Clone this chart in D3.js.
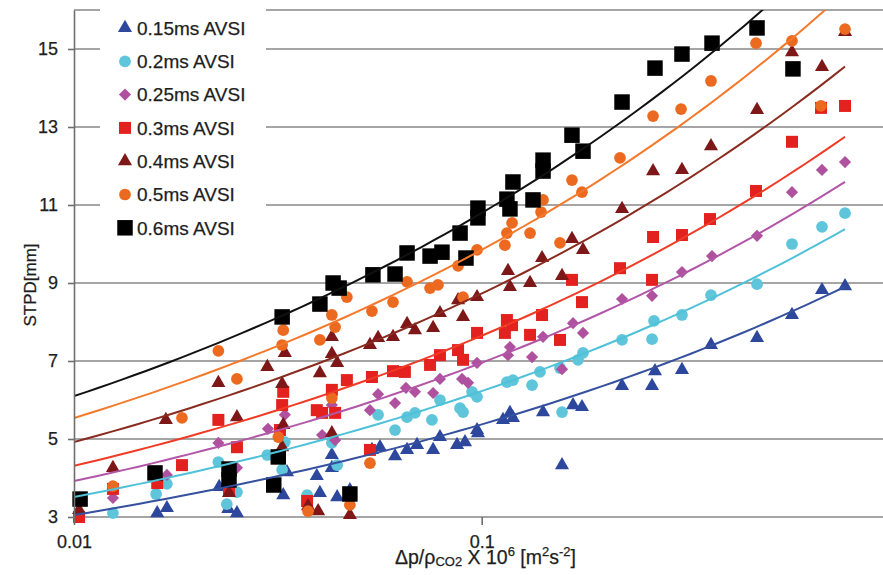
<!DOCTYPE html>
<html>
<head>
<meta charset="utf-8">
<script src="https://cdn.jsdelivr.net/npm/d3@7"></script>
<style>
  body { margin: 0; background: #fff; }
  svg text { font-family: "Liberation Sans", Arial, sans-serif; fill: #1e1e1e; stroke: #1e1e1e; stroke-width: 0.25px; }
</style>
</head>
<body>
<script>
// series labels, in legend order
const seriesNames = ["0.15ms AVSI", "0.2ms AVSI", "0.25ms AVSI", "0.3ms AVSI", "0.4ms AVSI", "0.5ms AVSI", "0.6ms AVSI"];

// [dp/rho x 1e6, STPD mm]
const s015 = [[0.0160,3.10],[0.0169,3.23],[0.0227,3.77],[0.0239,3.21],[0.0251,3.10],[0.0326,3.56],[0.0333,4.15],[0.0394,4.05],[0.0401,3.62],[0.0429,4.59],[0.0429,4.26],[0.0442,3.51],[0.0475,3.69],[0.0538,4.72],[0.0563,4.79],[0.0613,4.56],[0.0656,4.72],[0.0694,4.85],[0.0760,4.72],[0.0790,5.05],[0.0870,4.85],[0.0910,4.92],[0.0974,5.23],[0.0979,5.15],[0.1128,5.49],[0.1173,5.67],[0.1193,5.54],[0.1414,5.69],[0.1574,4.33],[0.1675,5.87],[0.1762,5.82],[0.2209,6.36],[0.2617,6.36],[0.2661,6.74],[0.3099,6.77],[0.3651,7.41],[0.4735,7.59],[0.5769,8.18],[0.6834,8.82],[0.7783,8.92]];
const s020 = [[0.01246,3.10],[0.0159,3.59],[0.0169,3.85],[0.0226,4.41],[0.0237,3.33],[0.0251,3.64],[0.0298,4.59],[0.0324,4.21],[0.0329,4.92],[0.0373,3.56],[0.0429,4.90],[0.0442,4.33],[0.0557,5.62],[0.0613,5.23],[0.0656,5.56],[0.0686,5.67],[0.0755,5.49],[0.0790,6.00],[0.0885,5.79],[0.0900,5.69],[0.0947,6.21],[0.0974,6.08],[0.1153,6.46],[0.1193,6.51],[0.1329,6.38],[0.1390,6.72],[0.1556,6.82],[0.1574,5.69],[0.1723,7.03],[0.1772,7.21],[0.2209,7.54],[0.2617,7.56],[0.2646,8.03],[0.3099,8.18],[0.3651,8.69],[0.4735,8.97],[0.5769,10.00],[0.6834,10.44],[0.7783,10.79]];
const s025 = [[0.01246,3.49],[0.0169,4.08],[0.0226,4.90],[0.0251,4.26],[0.0299,5.26],[0.0329,5.62],[0.0406,5.10],[0.0437,4.97],[0.0429,5.87],[0.0532,5.74],[0.0557,6.15],[0.0613,5.92],[0.0652,6.31],[0.0686,6.21],[0.0760,6.18],[0.0790,6.54],[0.0895,6.54],[0.0926,6.44],[0.0974,6.95],[0.1160,7.15],[0.1173,7.36],[0.1329,7.10],[0.1414,7.62],[0.1574,6.79],[0.1675,7.97],[0.1772,7.72],[0.2209,8.59],[0.2617,8.67],[0.3099,9.28],[0.3672,9.69],[0.4735,10.21],[0.5769,11.33],[0.6834,11.90],[0.7783,12.10]];
const s030 = [[0.01029,3.00],[0.01246,3.72],[0.0160,3.87],[0.0184,4.33],[0.0226,5.49],[0.0251,4.79],[0.0240,3.69],[0.0320,5.23],[0.0324,5.87],[0.0326,6.21],[0.0373,3.41],[0.0394,5.74],[0.0406,5.67],[0.0437,5.67],[0.0429,6.26],[0.0467,6.51],[0.0532,4.72],[0.0538,6.59],[0.0606,6.74],[0.0648,6.72],[0.0747,6.90],[0.0790,7.15],[0.0875,7.28],[0.0900,7.03],[0.0974,7.72],[0.1153,8.05],[0.1187,7.92],[0.1140,7.72],[0.1314,7.67],[0.1406,8.18],[0.1556,7.54],[0.1665,9.08],[0.1762,8.51],[0.2184,9.38],[0.2617,9.08],[0.2632,10.18],[0.3099,10.23],[0.3631,10.64],[0.4708,11.36],[0.5769,12.62],[0.6796,13.49],[0.7783,13.54]];
const s040 = [[0.01029,3.18],[0.01246,4.26],[0.0168,5.49],[0.0226,6.44],[0.0251,5.56],[0.0240,3.62],[0.0298,6.85],[0.0324,6.41],[0.0329,7.21],[0.0324,4.79],[0.0326,5.36],[0.0375,3.28],[0.0397,3.15],[0.0401,6.69],[0.0429,7.62],[0.0429,7.18],[0.0442,6.95],[0.0429,5.15],[0.0475,3.05],[0.0532,7.41],[0.0557,7.59],[0.0606,7.62],[0.0656,7.95],[0.0686,7.79],[0.0760,7.85],[0.0790,8.23],[0.0875,8.56],[0.0900,8.13],[0.0974,8.64],[0.1160,9.31],[0.1173,8.90],[0.1314,9.00],[0.1406,9.64],[0.1574,9.18],[0.1665,10.13],[0.1772,9.85],[0.2209,10.90],[0.2632,11.87],[0.3099,11.90],[0.3651,12.51],[0.4735,13.44],[0.5769,14.92],[0.6834,14.54],[0.7783,15.44]];
const s050 = [[0.01246,3.79],[0.0184,5.54],[0.0226,7.26],[0.0251,6.54],[0.0317,5.05],[0.0326,7.79],[0.0324,7.41],[0.0375,3.15],[0.0401,7.54],[0.0429,8.18],[0.0437,7.87],[0.0429,6.05],[0.0467,8.64],[0.0475,3.31],[0.0532,4.38],[0.0538,8.28],[0.0606,8.51],[0.0656,9.03],[0.0747,8.87],[0.0781,8.95],[0.0875,9.44],[0.0900,8.64],[0.0974,9.85],[0.1140,9.97],[0.1153,10.28],[0.1187,10.54],[0.1314,10.28],[0.1398,10.82],[0.1414,11.13],[0.1556,10.03],[0.1665,11.64],[0.1762,11.33],[0.2184,12.21],[0.2632,13.28],[0.3083,13.46],[0.3651,14.18],[0.4708,15.15],[0.5769,15.21],[0.6796,13.54],[0.7783,15.51]];
const s060 = [[0.01035,3.46],[0.0158,4.13],[0.0240,4.23],[0.0240,3.95],[0.0317,4.54],[0.0309,3.82],[0.0475,3.59],[0.0324,8.13],[0.0401,8.46],[0.0432,9.00],[0.0447,8.87],[0.0541,9.21],[0.0613,9.23],[0.0656,9.77],[0.0747,9.69],[0.0799,9.79],[0.0885,10.28],[0.0915,9.64],[0.0979,10.92],[0.0979,10.67],[0.1193,11.59],[0.1153,11.15],[0.1173,10.90],[0.1336,11.13],[0.1414,12.15],[0.1414,11.87],[0.1665,12.79],[0.1772,12.38],[0.2209,13.64],[0.2661,14.51],[0.3099,14.87],[0.3672,15.15],[0.4735,15.54],[0.5800,14.49]];

// power trendlines y = a * x^b
const fitA = [9.47, 11.05, 12.34, 13.57, 15.49, 17.52, 19.11];
const fitB = [0.246, 0.249, 0.249, 0.249, 0.249, 0.250, 0.248];

const yTicks = [3, 5, 7, 9, 11, 13, 15];
const xTicks = [0.01, 0.1];

const markerColors = ["#2d479d", "#5ec5da", "#b0519f", "#e3211f", "#7e1818", "#ec6a1f", "#000000"];
const lineColors   = ["#34509f", "#4fc1d8", "#b256a8", "#f03b26", "#8a2b20", "#f4792a", "#111111"];
const shapes = ["triangle", "circle", "diamond", "square", "triangle", "circle", "bigsquare"];

const allSeries = [s015, s020, s025, s030, s040, s050, s060];

let width = 883;
let height = 575;
let marginLeft = 74;
let marginTop = 10;
let plotBottom = 517;

const x = d3.scaleLog()
  .domain([0.01, 1])
  .range([marginLeft, marginLeft + 2 * 407.7]);

const y = d3.scaleLinear()
  .domain([3, 16])
  .range([plotBottom, marginTop]);

const svg = d3.select("body")
  .append("svg")
  .attr("width", width)
  .attr("height", height)
  .attr("viewBox", [0, 0, width, height]);

svg.append("defs")
  .append("clipPath")
  .attr("id", "clip")
  .append("rect")
  .attr("x", marginLeft)
  .attr("y", marginTop)
  .attr("width", width - marginLeft)
  .attr("height", plotBottom - marginTop);

// gridlines (plus the top border of the plot)
svg.append("g")
  .selectAll("line")
  .data(yTicks.concat([16]))
  .join("line")
  .attr("x1", marginLeft)
  .attr("x2", x(1))
  .attr("y1", d => y(d))
  .attr("y2", d => y(d))
  .attr("stroke", "#878787")
  .attr("stroke-width", 1.6);

function symbolFor(shape) {
  if (shape === "triangle") return d3.symbol(d3.symbolTriangle, 86);
  if (shape === "circle") return d3.symbol(d3.symbolCircle, 108);
  if (shape === "diamond") return d3.symbol(d3.symbolSquare, 74);
  if (shape === "square") return d3.symbol(d3.symbolSquare, 144);
  return d3.symbol(d3.symbolSquare, 240);
}

// markers
allSeries.forEach((pts, i) => {
  svg.append("g")
    .selectAll("path")
    .data(pts)
    .join("path")
    .attr("d", symbolFor(shapes[i])())
    .attr("transform", d => `translate(${x(d[0])},${y(d[1])})` + (shapes[i] === "diamond" ? " rotate(45)" : ""))
    .attr("fill", markerColors[i]);
});

// trendlines
const trend = svg.append("g").attr("clip-path", "url(#clip)");
allSeries.forEach((pts, i) => {
  const xmax = d3.max(pts, d => d[0]);
  const xs = d3.range(0, 61).map(k => Math.pow(10, -2 + k / 60 * (Math.log10(xmax) + 2)));
  trend.append("path")
    .datum(xs)
    .attr("fill", "none")
    .attr("stroke", lineColors[i])
    .attr("stroke-width", 2)
    .attr("d", d3.line().x(d => x(d)).y(d => y(fitA[i] * Math.pow(d, fitB[i]))));
});

// axes
svg.append("g")
  .attr("transform", `translate(${marginLeft},0)`)
  .call(d3.axisLeft(y).tickValues(yTicks).tickSize(6).tickSizeOuter(0).tickPadding(10))
  .call(g => g.selectAll("path, line").attr("stroke", "#6e6e6e").attr("stroke-width", 1.6))
  .call(g => g.selectAll("text").attr("font-size", 18));

svg.append("g")
  .attr("transform", `translate(0,${plotBottom})`)
  .call(d3.axisBottom(x).tickValues(xTicks).tickFormat(d => d).tickSize(8).tickSizeOuter(0).tickPadding(10))
  .call(g => g.select(".domain").remove())
  .call(g => g.selectAll("line").attr("stroke", "#6e6e6e").attr("stroke-width", 1.6))
  .call(g => g.selectAll("text").attr("font-size", 18));

// legend
const legend = svg.append("g");
legend.append("rect")
  .attr("x", 100).attr("y", 7)
  .attr("width", 166).attr("height", 238)
  .attr("fill", "#fff");

seriesNames.forEach((name, i) => {
  const ly = 28 + i * 33.3;
  legend.append("path")
    .attr("d", symbolFor(shapes[i])())
    .attr("transform", `translate(125,${ly})` + (shapes[i] === "diamond" ? " rotate(45)" : ""))
    .attr("fill", markerColors[i]);
  legend.append("text")
    .attr("x", 137)
    .attr("y", ly)
    .attr("dy", "0.36em")
    .attr("font-size", 19)
    .text(name);
});

// axis titles
svg.append("text")
  .attr("transform", "translate(36,285) rotate(-90)")
  .attr("text-anchor", "middle")
  .attr("font-size", 17)
  .text("STPD[mm]");

const xt = svg.append("text")
  .attr("x", 395)
  .attr("y", 564)
  .attr("font-size", 19.5);
xt.append("tspan").text("\u0394p/\u03c1");
xt.append("tspan").attr("font-size", 13).attr("dy", 2).text("CO2");
xt.append("tspan").attr("dy", -2).text(" X 10");
xt.append("tspan").attr("font-size", 13).attr("dy", -8).text("6");
xt.append("tspan").attr("dy", 8).text(" [m");
xt.append("tspan").attr("font-size", 13).attr("dy", -8).text("2");
xt.append("tspan").attr("dy", 8).text("s");
xt.append("tspan").attr("font-size", 13).attr("dy", -8).text("-2");
xt.append("tspan").attr("dy", 8).text("]");
</script>
</body>
</html>
